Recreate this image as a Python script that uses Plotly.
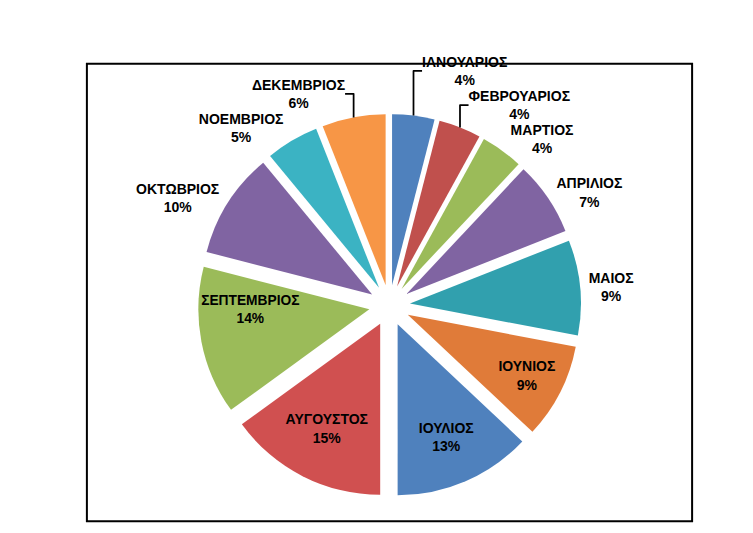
import plotly.graph_objects as go

months = ["ΙΑΝΟΥΑΡΙΟΣ","ΦΕΒΡΟΥΑΡΙΟΣ","ΜΑΡΤΙΟΣ","ΑΠΡΙΛΙΟΣ","ΜΑΙΟΣ","ΙΟΥΝΙΟΣ",
          "ΙΟΥΛΙΟΣ","ΑΥΓΟΥΣΤΟΣ","ΣΕΠΤΕΜΒΡΙΟΣ","ΟΚΤΩΒΡΙΟΣ","ΝΟΕΜΒΡΙΟΣ","ΔΕΚΕΜΒΡΙΟΣ"]
values = [4, 4, 4, 7, 9, 9, 13, 15, 14, 10, 5, 6]
colors = ["#4F81BD","#C0504D","#9BBB59","#8064A2","#31A0AE","#E07B39",
          "#4F81BD","#D05050","#9BBB59","#8064A2","#3BB3C3","#F79646"]
positions = ["outside"]*5 + ["inside"]*4 + ["outside"]*3

fig = go.Figure(go.Pie(
    labels=months, values=values, sort=False, direction="clockwise", rotation=0,
    marker=dict(colors=colors, line=dict(color="white", width=0)),
    pull=[0.12]*12,
    texttemplate="%{label}<br>%{percent:.0%}",
    textposition=positions, insidetextorientation="horizontal",
    textfont=dict(family="Liberation Sans", size=14, color="black", weight="bold"),
    showlegend=False, hoverinfo="label+percent"))
W, H, l, r, t, b = 753, 533, 90, 90, 60, 30
pw, ph = W - l - r, H - t - b
fig.update_layout(
    width=W, height=H, paper_bgcolor="white",
    margin=dict(l=l, r=r, t=t, b=b),
    shapes=[dict(type="rect", xref="paper", yref="paper",
                 x0=-(l - 2) / pw, x1=1 + (r - 2) / pw,
                 y0=-(b - 2) / ph, y1=1 + (t - 2) / ph,
                 line=dict(color="black", width=2))])
fig.write_html("out.html")
